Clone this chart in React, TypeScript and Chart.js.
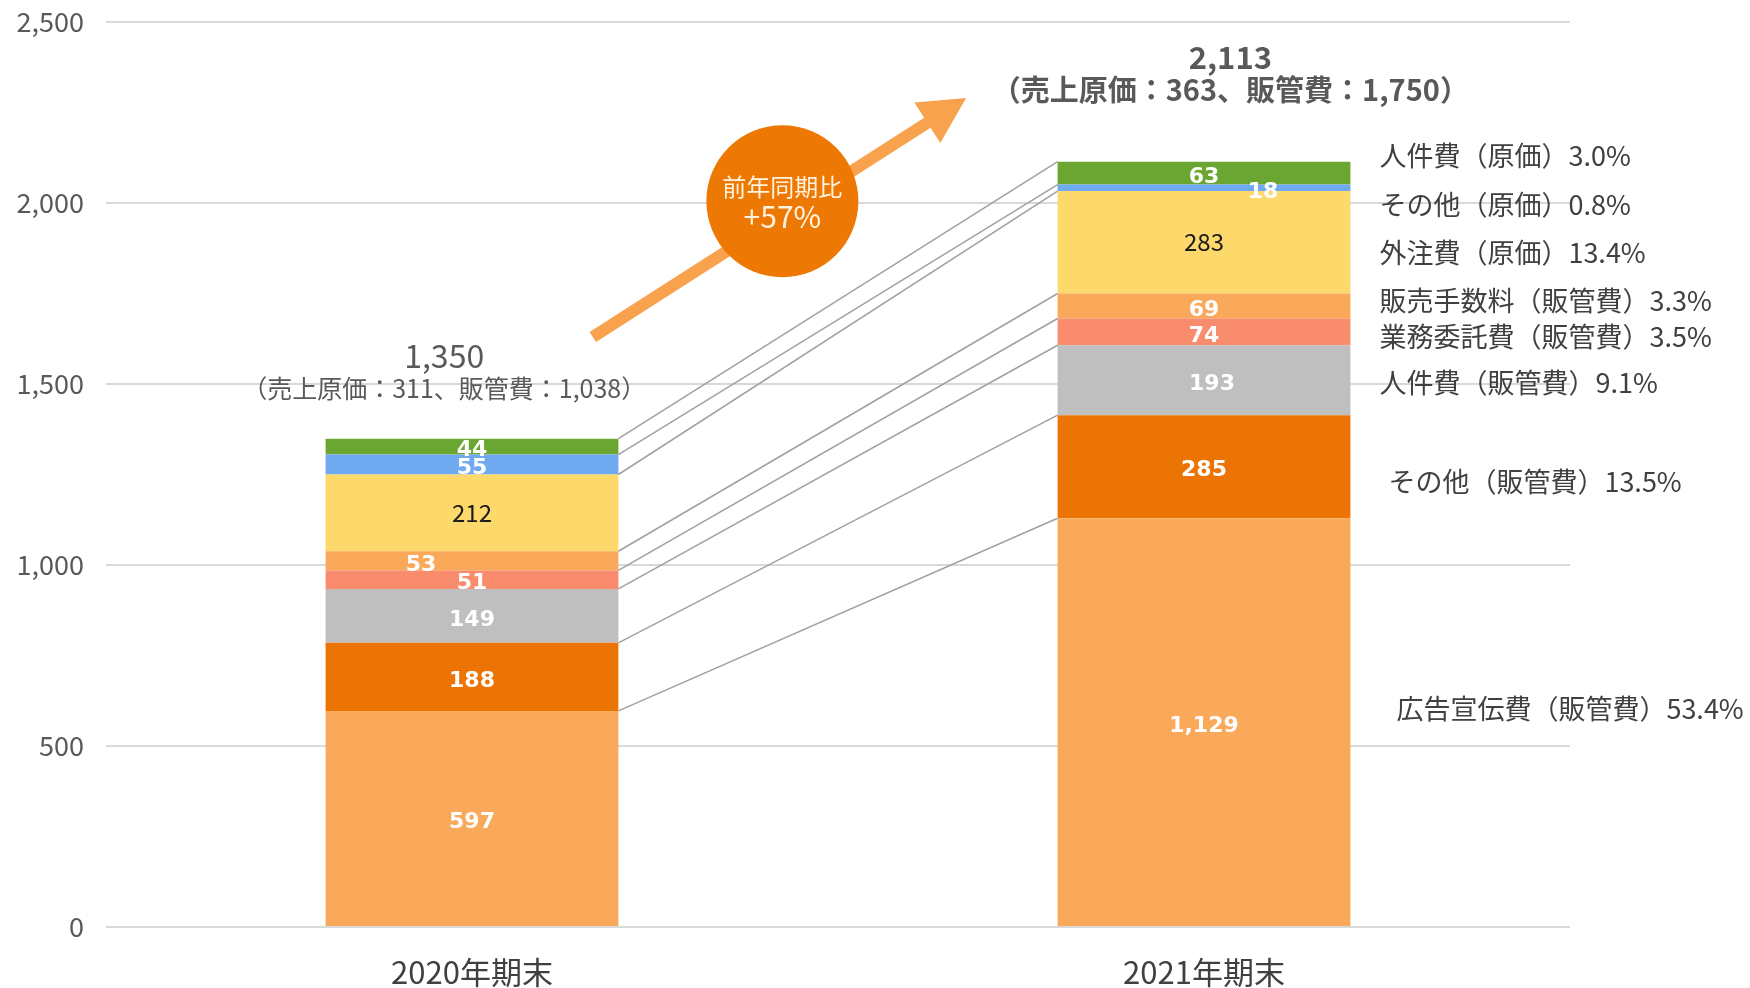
import React, { useEffect, useRef } from "react";
import { Chart, registerables } from "chart.js";

Chart.register(...registerables);

// ---- data ----
const categories = ["2020年期末", "2021年期末"];
const seriesNames = [
  "広告宣伝費（販管費）",
  "その他（販管費）",
  "人件費（販管費）",
  "業務委託費（販管費）",
  "販売手数料（販管費）",
  "外注費（原価）",
  "その他（原価）",
  "人件費（原価）",
];
const values2020 = [597, 188, 149, 51, 53, 212, 55, 44];
const values2021 = [1129, 285, 193, 74, 69, 283, 18, 63];
const shares2021 = ["53.4%", "13.5%", "9.1%", "3.5%", "3.3%", "13.4%", "0.8%", "3.0%"];
const totals = [1350, 2113];
const totalNotes = ["（売上原価：311、販管費：1,038）", "（売上原価：363、販管費：1,750）"];
const yoyText = ["前年同期比", "+57%"];
const yMax = 2500;
const yStep = 500;

// ---- styles / layout ----
const colors = ["#FAA85A", "#EC7405", "#BFBFBF", "#F88C6C", "#FAA85A", "#FDD96B", "#6FA9F0", "#6AA631"];
const labelColors = ["#FFFFFF", "#FFFFFF", "#FFFFFF", "#FFFFFF", "#FFFFFF", "#1A1A1A", "#FFFFFF", "#FFFFFF"];
const labelBold = [true, true, true, true, true, false, true, true];
const labelDx2020 = [0, 0, 0, 0, -51, 0, 0, 0];
const labelDx2021 = [0, 0, 8, 0, 0, 0, 59, 0];
const sideDy = [-13, 15, 3, 5, -5, 10, 17, -17];
const sideDx = [17, 9, 0, 0, 0, 0, 0, 0];

const CJK = '"Noto Sans CJK JP", "Noto Sans", sans-serif';
const NUM = '"DejaVu Sans", Verdana, sans-serif';
const fmt = (v: number) => v.toLocaleString("en-US");

const overlay = {
  id: "overlay",
  afterDatasetsDraw(chart: any) {
    const ctx = chart.ctx as CanvasRenderingContext2D;
    const xs = chart.scales.x;
    const ys = chart.scales.y;
    const metas = seriesNames.map((_, i) => chart.getDatasetMeta(i));
    ctx.save();

    // connector lines
    ctx.strokeStyle = "#A0A0A0";
    ctx.lineWidth = 1.5;
    metas.forEach((m: any) => {
      const a = m.data[0];
      const b = m.data[1];
      ctx.beginPath();
      ctx.moveTo(a.x + a.width / 2, a.y);
      ctx.lineTo(b.x - b.width / 2, b.y);
      ctx.stroke();
    });

    // segment value labels
    ctx.textAlign = "center";
    ctx.textBaseline = "middle";
    metas.forEach((m: any, i: number) => {
      [0, 1].forEach((c) => {
        const el = m.data[c];
        const v = c === 0 ? values2020[i] : values2021[i];
        const dx = c === 0 ? labelDx2020[i] : labelDx2021[i];
        ctx.fillStyle = labelColors[i];
        ctx.font = labelBold[i] ? `bold 22px ${NUM}` : `24px ${CJK}`;
        const dy = labelBold[i] ? 4 : 0;
        ctx.fillText(fmt(v), el.x + dx, (el.y + el.base) / 2 + dy);
      });
    });

    // side labels for 2021 bar
    ctx.textAlign = "left";
    ctx.fillStyle = "#404040";
    ctx.font = `27px ${CJK}`;
    metas.forEach((m: any, i: number) => {
      const el = m.data[1];
      const x = el.x + el.width / 2 + 29 + sideDx[i];
      const y = (el.y + el.base) / 2 + sideDy[i];
      ctx.fillText(seriesNames[i] + shares2021[i], x, y);
    });

    // totals
    ctx.textAlign = "center";
    ctx.fillStyle = "#595959";
    const t0x = xs.getPixelForValue(-0.038);
    const t0y = ys.getPixelForValue(totals[0]);
    ctx.font = `32px ${CJK}`;
    ctx.fillText(fmt(totals[0]), t0x, t0y - 82);
    ctx.font = `25px ${CJK}`;
    ctx.fillText(totalNotes[0], t0x, t0y - 50);

    const t1x = xs.getPixelForValue(1.036);
    const t1y = ys.getPixelForValue(totals[1]);
    ctx.font = `bold 31px ${CJK}`;
    ctx.fillText(fmt(totals[1]), t1x, t1y - 105);
    ctx.font = `bold 29px ${CJK}`;
    ctx.fillText(totalNotes[1], t1x, t1y - 72);

    // arrow
    const ax0 = xs.getPixelForValue(0.165);
    const ay0 = ys.getPixelForValue(1630);
    const ax1 = xs.getPixelForValue(0.675);
    const ay1 = ys.getPixelForValue(2290);
    const L = Math.hypot(ax1 - ax0, ay1 - ay0);
    const dx = (ax1 - ax0) / L;
    const dy = (ay1 - ay0) / L;
    const nx = -dy;
    const ny = dx;
    const sw = 6;
    const hw = 24;
    const hl = 46;
    const neckX = ax1 - dx * hl;
    const neckY = ay1 - dy * hl;
    ctx.fillStyle = "#F9A24E";
    ctx.beginPath();
    ctx.moveTo(ax0 + nx * sw, ay0 + ny * sw);
    ctx.lineTo(neckX + nx * sw, neckY + ny * sw);
    ctx.lineTo(neckX + nx * hw, neckY + ny * hw);
    ctx.lineTo(ax1, ay1);
    ctx.lineTo(neckX - nx * hw, neckY - ny * hw);
    ctx.lineTo(neckX - nx * sw, neckY - ny * sw);
    ctx.lineTo(ax0 - nx * sw, ay0 - ny * sw);
    ctx.closePath();
    ctx.fill();

    // circle
    const cx = xs.getPixelForValue(0.424);
    const cy = ys.getPixelForValue(2005);
    ctx.fillStyle = "#ED7803";
    ctx.beginPath();
    ctx.arc(cx, cy, 76, 0, Math.PI * 2);
    ctx.fill();
    ctx.fillStyle = "#FFF3DE";
    ctx.textAlign = "center";
    ctx.font = `24px ${CJK}`;
    ctx.fillText(yoyText[0], cx, cy - 14);
    ctx.font = `30px ${CJK}`;
    ctx.fillText(yoyText[1], cx, cy + 15);

    ctx.restore();
  },
};

export default function App() {
  const ref = useRef<HTMLCanvasElement | null>(null);
  useEffect(() => {
    if (!ref.current) return;
    const datasets = seriesNames.map((name, i) => ({
      label: name,
      data: [values2020[i], values2021[i]],
      backgroundColor: colors[i],
      borderWidth: 0,
      barPercentage: 0.4,
      categoryPercentage: 1,
    }));
    const chart = new Chart(ref.current, {
      type: "bar",
      data: { labels: categories, datasets },
      options: {
        animation: false,
        responsive: true,
        maintainAspectRatio: false,
        layout: { padding: { top: 22, right: 180, left: 0, bottom: 0 } },
        plugins: {
          legend: { display: false },
          tooltip: { enabled: false },
        },
        scales: {
          x: {
            stacked: true,
            grid: { display: false, drawTicks: false },
            border: { display: false },
            ticks: {
              color: "#404040",
              font: { family: CJK, size: 31 },
              padding: 27,
            },
            afterFit: (s: any) => {
              s.height = 61;
            },
          },
          y: {
            stacked: true,
            min: 0,
            max: yMax,
            grid: { color: "#D9D9D9", lineWidth: 2, drawTicks: false },
            border: { display: false },
            ticks: {
              stepSize: yStep,
              color: "#595959",
              font: { family: CJK, size: 27 },
              padding: 22,
              callback: (v: any) => fmt(Number(v)),
            },
            afterFit: (s: any) => {
              s.width = 106;
              s.paddingTop = 0;
              s.paddingBottom = 0;
            },
          },
        },
      },
      plugins: [overlay],
    });
    return () => chart.destroy();
  }, []);
  return (
    <div style={{ position: "absolute", left: 0, top: 0, width: 1750, height: 988, background: "#fff" }}>
      <canvas ref={ref} />
    </div>
  );
}
